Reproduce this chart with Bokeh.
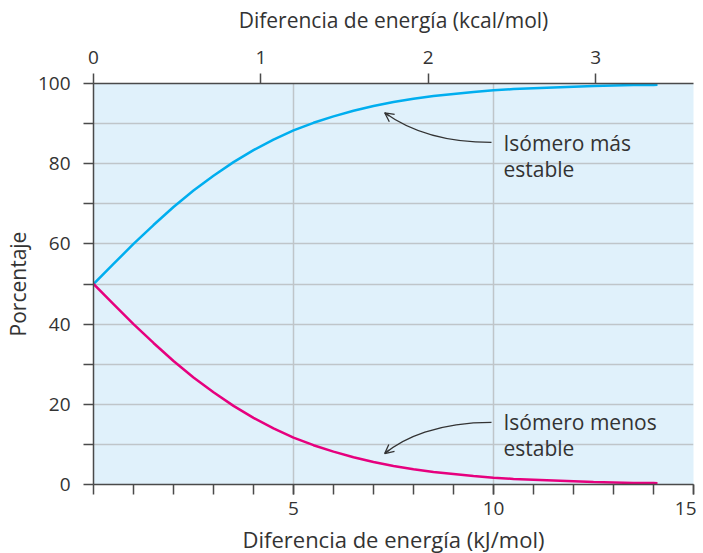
from bokeh.plotting import figure
from bokeh.models import LinearAxis, Range1d, FixedTicker, Label, Arrow, OpenHead
from bokeh.embed import file_html
from bokeh.resources import INLINE

# Data
energy_kj = [0, 0.5, 1, 1.5, 2, 2.5, 3, 3.5, 4, 4.5, 5, 5.5, 6, 6.5, 7, 7.5, 8,
             8.5, 9, 9.5, 10, 10.5, 11, 11.5, 12, 12.5, 13, 13.5, 14, 14.1]
more_stable_pct = [50.0, 55.0, 60.0, 64.7, 69.2, 73.3, 77.0, 80.4, 83.4, 86.0, 88.3,
                   90.2, 91.8, 93.2, 94.4, 95.4, 96.2, 96.9, 97.4, 97.9, 98.3, 98.6,
                   98.8, 99.0, 99.2, 99.4, 99.5, 99.6, 99.65, 99.66]
less_stable_pct = [50.0, 45.0, 40.0, 35.3, 30.8, 26.7, 23.0, 19.6, 16.6, 14.0, 11.7,
                   9.8, 8.2, 6.8, 5.6, 4.6, 3.8, 3.1, 2.6, 2.1, 1.7, 1.4,
                   1.2, 1.0, 0.8, 0.6, 0.5, 0.4, 0.35, 0.34]
kj_ticks = [5, 10, 15]
kj_minor = list(range(0, 16))
kcal_ticks = [0, 1, 2, 3]
pct_ticks = [0, 20, 40, 60, 80, 100]
pct_minor = [10, 30, 50, 70, 90]
pct_grid = [10, 20, 30, 40, 50, 60, 70, 80, 90]
KJ_PER_KCAL = 4.184

FONT = "Open Sans"
TXT = "#333333"
AX = "#4a4a4a"

p = figure(frame_width=600, frame_height=401,
           x_range=Range1d(0, 15), y_range=Range1d(0, 100),
           output_backend="svg", toolbar_location=None,
           min_border_left=84, min_border_right=3,
           min_border_top=83, min_border_bottom=53)
p.outline_line_color = None
p.background_fill_color = "#e0f1fb"
p.border_fill_color = "white"

xa = p.below[0]
ya = p.left[0]

p.extra_x_ranges = {"kcal": Range1d(0, 15 / KJ_PER_KCAL)}
top = LinearAxis(x_range_name="kcal", ticker=FixedTicker(ticks=kcal_ticks))
p.add_layout(top, "above")

def style_axis(ax, label, label_size):
    ax.axis_label = label
    ax.axis_label_text_font = FONT
    ax.axis_label_text_font_style = "normal"
    ax.axis_label_text_font_size = label_size
    ax.axis_label_text_color = TXT
    ax.major_label_text_font = FONT
    ax.major_label_text_font_size = "19px"
    ax.major_label_text_color = TXT
    ax.axis_line_color = AX
    ax.axis_line_width = 1.5
    ax.major_tick_line_color = AX
    ax.major_tick_line_width = 1.5
    ax.minor_tick_line_color = AX
    ax.minor_tick_line_width = 1.5
    ax.major_tick_in = 0
    ax.minor_tick_in = 0
    ax.major_tick_out = 10
    ax.minor_tick_out = 10

style_axis(xa, "Diferencia de energía (kJ/mol)", "22px")
xa.ticker = FixedTicker(ticks=kj_ticks, minor_ticks=kj_minor)
xa.major_label_standoff = 7
xa.axis_label_standoff = 6

style_axis(top, "Diferencia de energía (kcal/mol)", "21px")
top.major_label_standoff = 10
top.axis_label_standoff = 14
top.minor_tick_out = 0

style_axis(ya, "Porcentaje", "21px")
ya.ticker = FixedTicker(ticks=pct_ticks, minor_ticks=pct_minor)
ya.major_label_standoff = 13
ya.axis_label_standoff = 3

p.xgrid.ticker = FixedTicker(ticks=[5, 10])
p.ygrid.ticker = FixedTicker(ticks=pct_grid)
for g in (p.xgrid[0], p.ygrid[0]):
    g.grid_line_color = "#bfc5c9"
    g.grid_line_width = 1.5

p.line(energy_kj, more_stable_pct, line_color="#00aeef", line_width=2.5)
p.line(energy_kj, less_stable_pct, line_color="#e6007e", line_width=2.5)

# curved annotation arrows
p.bezier(x0=[9.95, 9.95], y0=[85.3, 15.5],
         x1=[7.28, 7.28], y1=[92.7, 7.7],
         cx0=[8.6, 8.6], cy0=[85.3, 15.5],
         cx1=[7.75, 7.75], cy1=[89.3, 11.6],
         line_color="#333333", line_width=1.3)
for (xs, ys, xe, ye) in [(7.39, 91.9, 7.28, 92.7), (7.39, 8.6, 7.28, 7.7)]:
    p.add_layout(Arrow(x_start=xs, y_start=ys, x_end=xe, y_end=ye,
                       line_color="#333333", line_width=1.3,
                       end=OpenHead(size=9, line_color="#333333", line_width=1.3)))

for txt, y in [("Isómero más", 85.2), ("estable", 78.6),
               ("Isómero menos", 15.6), ("estable", 9.2)]:
    p.add_layout(Label(x=10.25, y=y, text=txt, text_font=FONT,
                       text_font_size="21px", text_color=TXT,
                       text_baseline="alphabetic", text_align="left"))

open("out.html", "w").write(file_html(p, INLINE))
